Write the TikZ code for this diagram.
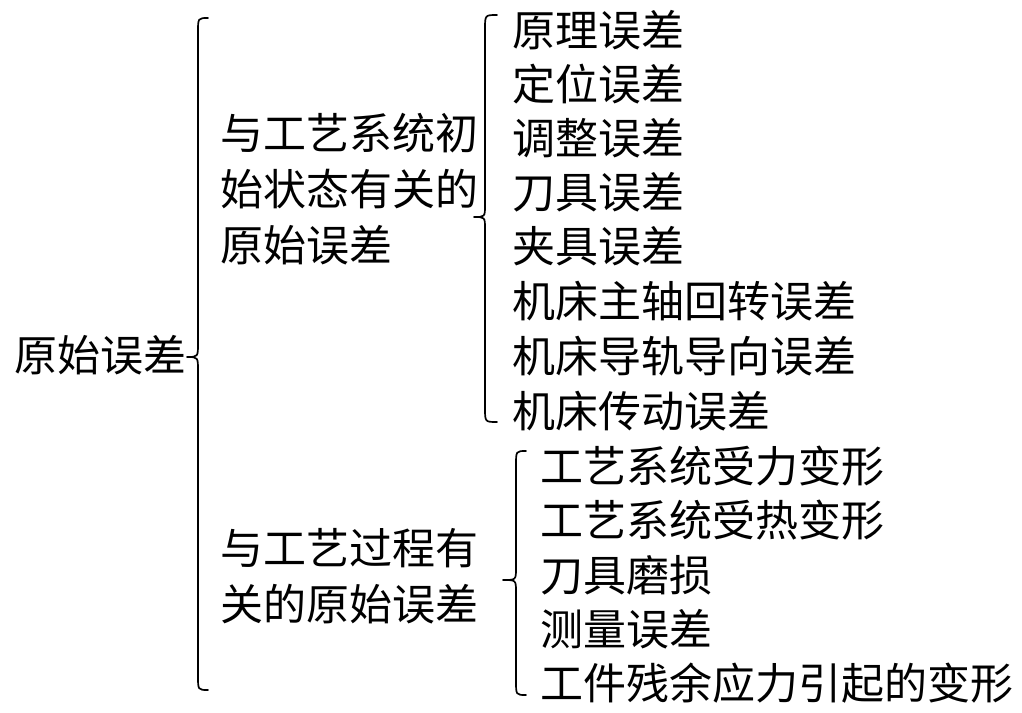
\documentclass[tikz,border=0pt]{standalone}
\usepackage{fontspec}
\newfontfamily\cjk{Noto Sans CJK SC}
\begin{document}
\begin{tikzpicture}[x=1pt,y=-1pt,
  txt/.style={font=\cjk\fontsize{43}{56}\selectfont, inner sep=0pt, anchor=west, align=left},
  brc/.style={line width=1.7pt, line join=round, line cap=round}]
\useasboundingbox[fill=white] (0,0) rectangle (1022,712);
% root and second level
\node[txt] (root) at (14,355) {原始误差};
\node[txt] (m1) at (220,189) {与工艺系统初\\始状态有关的\\原始误差};
\node[txt] (m2) at (220,576) {与工艺过程有\\关的原始误差};
% first group
\node[txt] (a1) at (512,30) {原理误差};
\node[txt] (a2) at (512,84) {定位误差};
\node[txt] (a3) at (512,138) {调整误差};
\node[txt] (a4) at (512,192) {刀具误差};
\node[txt] (a5) at (512,246) {夹具误差};
\node[txt] (a6) at (512,301) {机床主轴回转误差};
\node[txt] (a7) at (512,356) {机床导轨导向误差};
\node[txt] (a8) at (512,411) {机床传动误差};
% second group
\node[txt] (b1) at (540,466) {工艺系统受力变形};
\node[txt] (b2) at (540,520) {工艺系统受热变形};
\node[txt] (b3) at (540,575) {刀具磨损};
\node[txt] (b4) at (540,629) {测量误差};
\node[txt] (b5) at (540,683) {工件残余应力引起的变形};
% brace coordinates
\coordinate (B1t) at (208,18);  \coordinate (B1b) at (208,690); \coordinate (B1m) at (187,357);
\coordinate (B2t) at (497,15);  \coordinate (B2b) at (497,422); \coordinate (B2m) at (474,217);
\coordinate (B3t) at (526,451); \coordinate (B3b) at (526,695); \coordinate (B3m) at (503,580);
% big brace
\draw[brc] (B1t) .. controls (198,18) .. (198,32) -- (198,343)
  .. controls (198,357) .. (B1m) .. controls (198,357) .. (198,371)
  -- (198,676) .. controls (198,690) .. (B1b);
% brace 2
\draw[brc] (B2t) .. controls (485,15) .. (485,29) -- (485,205)
  .. controls (485,217) .. (B2m) .. controls (485,217) .. (485,229)
  -- (485,408) .. controls (485,422) .. (B2b);
% brace 3
\draw[brc] (B3t) .. controls (516,451) .. (516,465) -- (516,568)
  .. controls (516,580) .. (B3m) .. controls (516,580) .. (516,592)
  -- (516,681) .. controls (516,695) .. (B3b);
\end{tikzpicture}
\end{document}
